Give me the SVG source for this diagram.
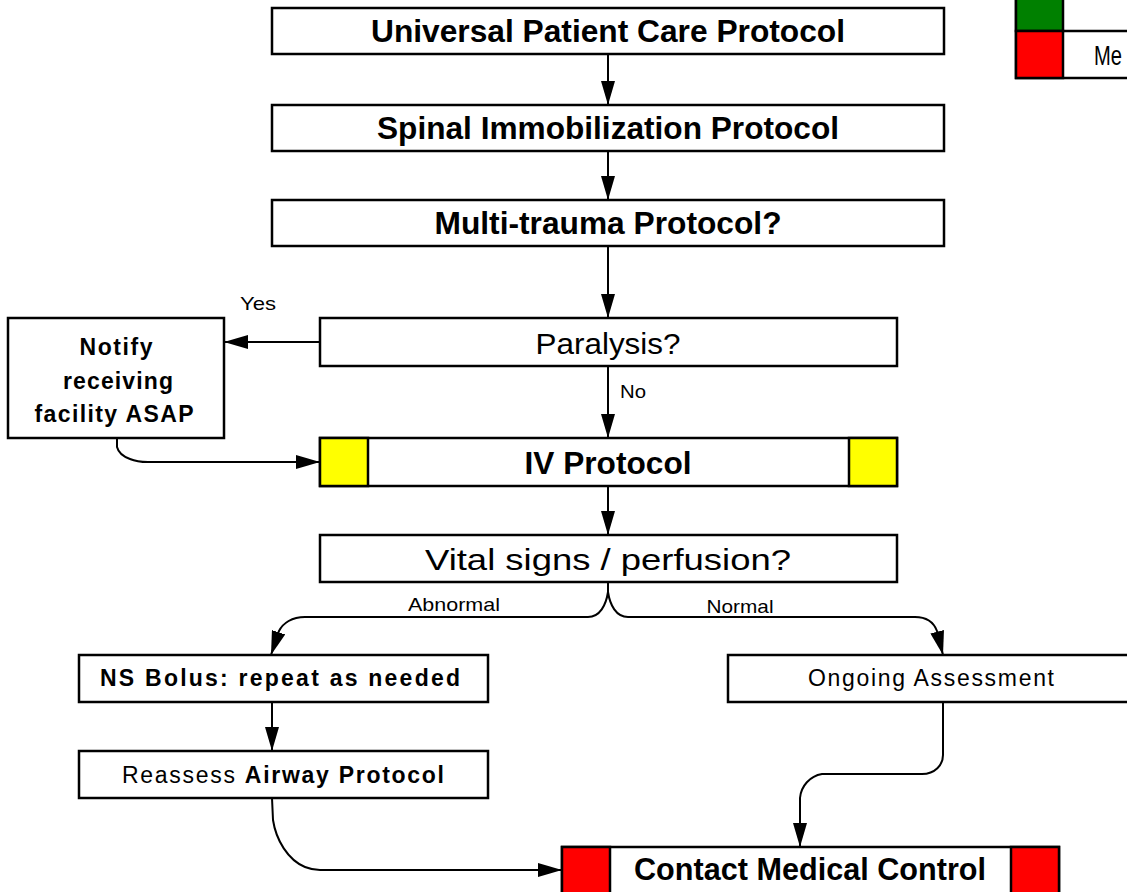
<svg xmlns="http://www.w3.org/2000/svg" width="1127" height="892" viewBox="0 0 1127 892">
<defs>
<marker id="ah" markerUnits="userSpaceOnUse" markerWidth="24" markerHeight="14" refX="24" refY="7" orient="auto">
<path d="M0,0 L24,7 L0,14 z" fill="#000"/>
</marker>
<style>
.box{fill:#fff;stroke:#000;stroke-width:2.5}
.sq{stroke:#000;stroke-width:2.5}
.t{font-family:"Liberation Sans",Arial,sans-serif;fill:#000;text-anchor:middle}
.b{font-weight:bold}
.big{font-size:32px}
.mid{font-size:23px}
.lbl{font-size:19px}
.c{fill:none;stroke:#000;stroke-width:2}
</style>
</defs>
<rect width="1127" height="892" fill="#fff"/>

<g id="legend">
<rect x="1016" y="-20" width="130" height="98" class="box"/>
<rect x="1016" y="-20" width="47" height="51" fill="#008000" class="sq"/>
<rect x="1016" y="31" width="47" height="47" fill="#ff0000" class="sq"/>
<line x1="1063" y1="31" x2="1140" y2="31" stroke="#000" stroke-width="2.5"/>
<text x="1094" y="65" class="t" style="text-anchor:start;font-size:27px" textLength="28" lengthAdjust="spacingAndGlyphs">Me</text>
</g>

<g id="connectors">
<path d="M608,54 L608,105" class="c" marker-end="url(#ah)"/>
<path d="M608,151 L608,200" class="c" marker-end="url(#ah)"/>
<path d="M608,246 L608,318" class="c" marker-end="url(#ah)"/>
<path d="M320,342 L224,342" class="c" marker-end="url(#ah)"/>
<path d="M608,366 L608,438" class="c" marker-end="url(#ah)"/>
<path d="M117,438 L117,447 Q119,455 130,459 Q137,462 148,462 L320,462" class="c" marker-end="url(#ah)"/>
<path d="M608,486 L608,535" class="c" marker-end="url(#ah)"/>
<path d="M608,582 L608,592 C606,605 600,617 588,617 L305,617 C292,617 283,623 279,631 L271,655" class="c" marker-end="url(#ah)"/>
<path d="M608,592 C610,605 616,617 628,617 L915,617 C928,617 934,623 937,631 L943,655" class="c" marker-end="url(#ah)"/>
<path d="M272,702 L272,751" class="c" marker-end="url(#ah)"/>
<path d="M943,702 L943,755 C943,765 935,774 922,774 L822,774 C810,776 801,786 800,798 L800,847" class="c" marker-end="url(#ah)"/>
<path d="M272,798 L273,820 C276,840 288,860 305,867 C310,869 315,870 320,870 L562,870" class="c" marker-end="url(#ah)"/>
<text x="258" y="310" class="t lbl" textLength="36" lengthAdjust="spacingAndGlyphs">Yes</text>
<text x="633" y="398" class="t" style="font-size:18px" textLength="26" lengthAdjust="spacingAndGlyphs">No</text>
<text x="454" y="611" class="t lbl" textLength="92" lengthAdjust="spacingAndGlyphs">Abnormal</text>
<text x="740" y="613" class="t lbl" textLength="67" lengthAdjust="spacingAndGlyphs">Normal</text>
</g>

<g id="n1">
<rect x="272" y="8" width="672" height="46" class="box"/>
<text x="608" y="42" class="t b big" textLength="474" lengthAdjust="spacingAndGlyphs">Universal Patient Care Protocol</text>
</g>
<g id="n2">
<rect x="272" y="105" width="672" height="46" class="box"/>
<text x="608" y="139" class="t b big" textLength="462" lengthAdjust="spacingAndGlyphs">Spinal Immobilization Protocol</text>
</g>
<g id="n3">
<rect x="272" y="200" width="672" height="46" class="box"/>
<text x="608" y="234" class="t b big" textLength="347" lengthAdjust="spacingAndGlyphs">Multi-trauma Protocol?</text>
</g>
<g id="n4">
<rect x="320" y="318" width="577" height="48" class="box"/>
<text x="608" y="354" class="t" style="font-size:30px" textLength="145" lengthAdjust="spacingAndGlyphs">Paralysis?</text>
</g>
<g id="n5">
<rect x="8" y="318" width="216" height="120" class="box"/>
<text x="116" y="355" class="t b mid" textLength="73" lengthAdjust="spacing">Notify</text>
<text x="118" y="389" class="t b mid" textLength="110" lengthAdjust="spacing">receiving</text>
<text x="114" y="422" class="t b mid" textLength="159" lengthAdjust="spacing">facility ASAP</text>
</g>
<g id="n6">
<rect x="320" y="438" width="577" height="48" class="box"/>
<rect x="320" y="438" width="48" height="48" fill="#ffff00" class="sq"/>
<rect x="849" y="438" width="48" height="48" fill="#ffff00" class="sq"/>
<text x="608" y="474" class="t b big" textLength="167" lengthAdjust="spacingAndGlyphs">IV Protocol</text>
</g>
<g id="n7">
<rect x="320" y="535" width="577" height="47" class="box"/>
<text x="608" y="570" class="t" style="font-size:30px" textLength="366" lengthAdjust="spacingAndGlyphs">Vital signs / perfusion?</text>
</g>
<g id="n8">
<rect x="79" y="655" width="409" height="47" class="box"/>
<text x="280" y="686" class="t b mid" textLength="360" lengthAdjust="spacing">NS Bolus: repeat as needed</text>
</g>
<g id="n9">
<rect x="728" y="655" width="410" height="47" class="box"/>
<text x="931" y="686" class="t mid" textLength="246" lengthAdjust="spacing">Ongoing Assessment</text>
</g>
<g id="n10">
<rect x="79" y="751" width="409" height="47" class="box"/>
<text x="283" y="783" class="t mid" textLength="322" lengthAdjust="spacing">Reassess <tspan class="b">Airway Protocol</tspan></text>
</g>
<g id="n11">
<rect x="562" y="847" width="497" height="60" class="box"/>
<rect x="562" y="847" width="48" height="60" fill="#ff0000" class="sq"/>
<rect x="1011" y="847" width="48" height="60" fill="#ff0000" class="sq"/>
<text x="810" y="880" class="t b big" textLength="352" lengthAdjust="spacingAndGlyphs">Contact Medical Control</text>
</g>
</svg>
